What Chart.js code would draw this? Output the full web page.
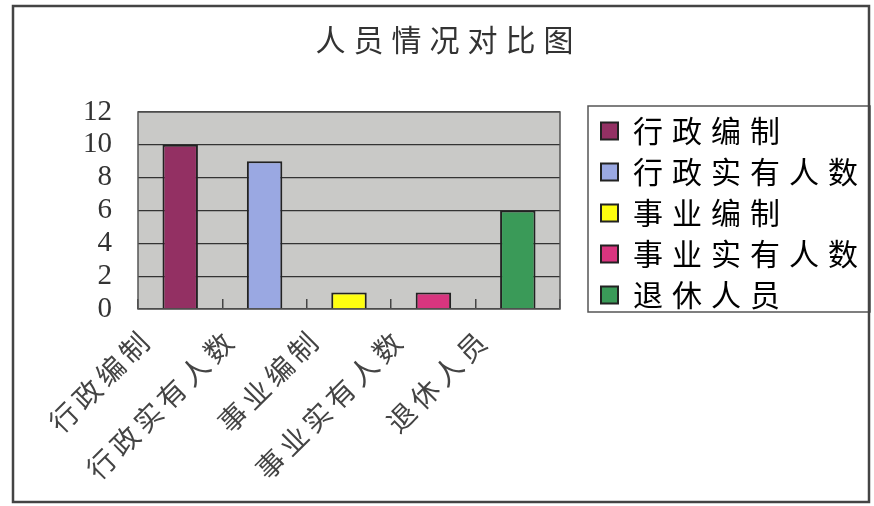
<!DOCTYPE html>
<html>
<head>
<meta charset="utf-8">
<script src="https://cdn.jsdelivr.net/npm/chart.js@4/dist/chart.umd.min.js"></script>
<style>
  html, body { margin: 0; padding: 0; background: #fff; }
  #wrap { width: 874px; height: 506px; position: relative; }
</style>
</head>
<body>
<div id="wrap"><canvas id="chart"></canvas></div>
<script>
const categories = ["行政编制", "行政实有人数", "事业编制", "事业实有人数", "退休人员"];
const values = [10, 9, 1, 1, 6];
const barColors = ["#933063", "#9aa8e2", "#ffff10", "#d8357f", "#3a9a58"];
const yTicks = [0, 2, 4, 6, 8, 10, 12];

const cjk = "'Noto Sans CJK SC', sans-serif";
const serif = "'Liberation Serif', 'DejaVu Serif', serif";

const LEGEND_WIDTH = 310;
const LEGEND_SHIFT = 30;
const LEGEND_HEIGHT = 400;

// wrap a layout box method so its text is drawn with extra letter spacing
function spaced(box, name, spacing, dx) {
    const orig = box[name].bind(box);
    box[name] = function (...args) {
        const c = box.ctx;
        c.save();
        c.letterSpacing = spacing;
        if (dx) c.translate(dx, 0);
        const r = orig(...args);
        c.restore();
        c.letterSpacing = "0px";
        return r;
    };
}

const framePlugin = {
    id: "frame",
    beforeLayout(chart) {
        const lg = chart.legend;
        if (lg && !lg._wrapped) {
            const upd = lg.update.bind(lg);
            lg.update = function (maxWidth, maxHeight, margins) {
                upd(maxWidth, LEGEND_HEIGHT, margins);
            };
            const fit = lg.fit.bind(lg);
            lg.fit = function () {
                fit();
                this.width = LEGEND_WIDTH;
            };
            spaced(lg, "draw", "9px");
            lg._wrapped = true;
        }
        const tb = chart.titleBlock;
        if (tb && !tb._wrapped) {
            spaced(tb, "draw", "8px", -15);
            tb._wrapped = true;
        }
        const xs = chart.scales.x;
        if (xs && !xs._wrapped) {
            spaced(xs, "update", "5px");
            spaced(xs, "draw", "5px");
            xs._wrapped = true;
        }
    },
    afterLayout(chart) {
        const lg = chart.legend;
        lg.left += LEGEND_SHIFT;
        lg.top -= 7;
        lg.height = LEGEND_HEIGHT;
        lg.bottom = lg.top + LEGEND_HEIGHT;
    },
    beforeDraw(chart) {
        const ctx = chart.ctx;
        const a = chart.chartArea;
        ctx.save();
        ctx.fillStyle = "#c9c9c7";
        ctx.fillRect(a.left, a.top, a.right - a.left, a.bottom - a.top);
        ctx.restore();
    },
    afterDraw(chart) {
        const ctx = chart.ctx;
        const a = chart.chartArea;
        const lg = chart.legend;
        const hb = lg.legendHitBoxes;
        ctx.save();
        ctx.strokeStyle = "#555";
        ctx.lineWidth = 1.5;
        ctx.strokeRect(a.left, a.top, a.right - a.left, a.bottom - a.top);
        if (hb && hb.length) {
            const top = hb[0].top - 10;
            const last = hb[hb.length - 1];
            const bottom = last.top + last.height + 2;
            const left = 588;
            ctx.strokeRect(left, top, 870 - left, bottom - top);
        }
        ctx.strokeStyle = "#444";
        ctx.lineWidth = 2.5;
        ctx.strokeRect(13, 6, 856, 496);
        ctx.restore();
    }
};

const ctx = document.getElementById("chart").getContext("2d");
const summaryChart = new Chart(ctx, {
    type: "bar",
    data: {
        labels: categories,
        datasets: [
            {
                label: "人员情况对比图",
                data: values,
                backgroundColor: barColors,
                borderColor: "#222",
                borderWidth: 2,
                barPercentage: 0.42,
                categoryPercentage: 1,
            },
        ],
    },
    options: {
        responsive: true,
        maintainAspectRatio: false,
        animation: false,
        layout: { padding: { left: 57, right: 4, top: 22, bottom: 20 } },
        plugins: {
            title: {
                display: true,
                text: "人员情况对比图",
                color: "#333",
                font: { family: cjk, size: 30, weight: "normal" },
                padding: { top: 0, bottom: 54 },
            },
            legend: {
                position: "right",
                align: "start",
                fullSize: false,
                labels: {
                    color: "#333",
                    font: { family: cjk, size: 30 },
                    boxWidth: 17,
                    boxHeight: 17,
                    padding: 11,
                    generateLabels(chart) {
                        return chart.data.labels.map((l, i) => ({
                            text: l,
                            fillStyle: barColors[i],
                            strokeStyle: "#222",
                            lineWidth: 2,
                            index: i,
                        }));
                    },
                },
            },
            tooltip: { enabled: false },
        },
        scales: {
            x: {
                afterFit(axis) {
                    axis.height = 177;
                    axis.paddingLeft = 0;
                    axis.paddingRight = 0;
                },
                grid: { display: true, drawOnChartArea: false, offset: true, tickLength: -10, color: "#444", lineWidth: 1.5 },
                border: { display: false },
                ticks: {
                    color: "#444",
                    font: { family: cjk, size: 28 },
                    maxRotation: 45,
                    minRotation: 45,
                    padding: 23,
                    labelOffset: -33,
                    autoSkip: false,
                },
            },
            y: {
                min: 0,
                max: 12,
                afterBuildTicks(axis) {
                    axis.ticks = yTicks.map(v => ({ value: v }));
                },
                grid: { color: "#333", drawTicks: false, lineWidth: 1.2 },
                border: { display: false },
                ticks: {
                    color: "#333",
                    font: { family: serif, size: 29 },
                    padding: 26,
                    autoSkip: false,
                },
            },
        },
    },
    plugins: [framePlugin],
});
</script>
</body>
</html>
